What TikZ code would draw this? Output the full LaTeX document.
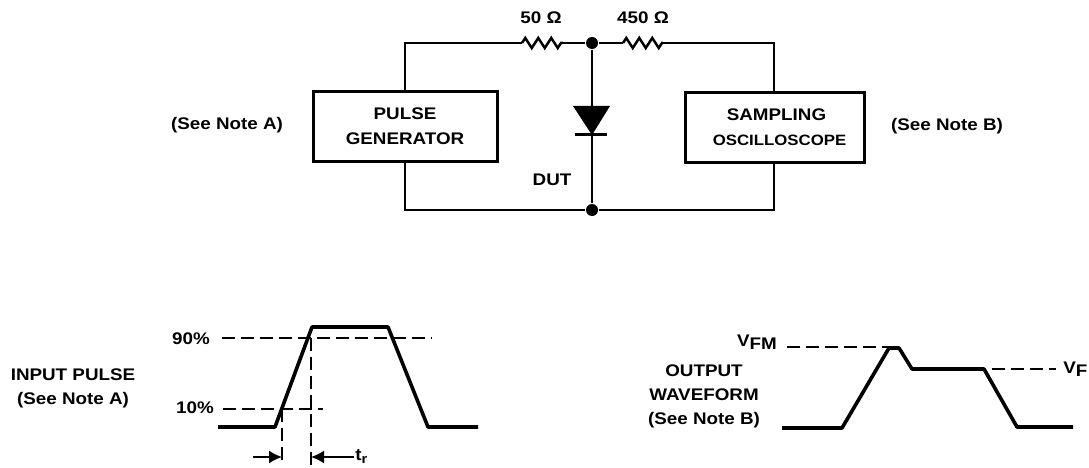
\documentclass[tikz,border=0pt]{standalone}
\usepackage{fontspec}
\setmainfont[FakeStretch=1.12]{Liberation Sans}
\usetikzlibrary{arrows.meta,decorations.pathmorphing}
\begin{document}
\begin{tikzpicture}[x=1pt, y=-1pt, draw=black, text=black, align=center, line width=2.5pt,
    font=\fontsize{16.8}{18}\selectfont\bfseries,
    boxnode/.style={draw, line width=3pt, minimum height=69pt, inner sep=0pt},
    dotnode/.style={circle, fill, minimum size=12pt, inner sep=0pt},
    resistor/.style={decorate, decoration={zigzag, segment length=13pt, amplitude=5pt}},
    pulse/.style={line width=3.6pt, line join=round},
    dashline/.style={line width=2.4pt, dash pattern=on 13pt off 6pt},
    timearrow/.style={line width=1.8pt, -{Latex[length=13pt, width=13pt]}}]
    \useasboundingbox (0,0) rectangle (1089,468);

    % circuit
    \node (gen) [boxnode, minimum width=184pt] at (405,126.5) {PULSE\\[7pt]GENERATOR};
    \node (scope) [boxnode, minimum width=179pt] at (774.5,127.5) {\hspace{4pt}SAMPLING\\[7pt]\hspace{10pt}{\fontsize{15}{18}\selectfont OSCILLOSCOPE}};
    \node (top) [dotnode] at (592,43) {};
    \node (bot) [dotnode] at (592,210) {};
    \coordinate (tl) at (405,43);
    \coordinate (tr) at (774,43);
    \coordinate (bl) at (405,210);
    \coordinate (br) at (774,210);
    \coordinate (r1a) at (522,43);
    \coordinate (r1b) at (563,43);
    \coordinate (r2a) at (623,43);
    \coordinate (r2b) at (663,43);
    \coordinate (da) at (573,106);
    \coordinate (db) at (610,106);
    \coordinate (dc) at (592,135);
    \coordinate (ba) at (575,135);
    \coordinate (bb) at (607,135);

    \draw (gen.north -| tl) -- (tl) -- (r1a);
    \draw[resistor] (r1a) -- (r1b);
    \draw (r1b) -- (top) -- (r2a);
    \draw[resistor] (r2a) -- (r2b);
    \draw (r2b) -- (tr) -- (scope.north -| tr);
    \draw (gen.south -| bl) -- (bl) -- (bot) -- (br) -- (scope.south -| br);
    \draw (top) -- (bot);
    \fill (da) -- (db) -- (dc) -- cycle;
    \draw[line width=3pt] (ba) -- (bb);

    \node (r1lab) at (541,18) {50 Ω};
    \node (r2lab) at (643,18) {450 Ω};
    \node (dut) at (552,180) {DUT};
    \node (noteA) at (227,125) {(See Note A)};
    \node (noteB) at (947,126) {(See Note B)};

    % input pulse
    \node (inlab) at (73,388.5) {INPUT PULSE\\[6pt](See Note A)};
    \node (p90) [anchor=east, inner sep=0pt] at (211,339) {90\%};
    \node (p10) [anchor=east, inner sep=0pt] at (215,408) {10\%};
    \coordinate (i1) at (218,427);
    \coordinate (i2) at (275,427);
    \coordinate (i3) at (312,327);
    \coordinate (i4) at (388,327);
    \coordinate (i5) at (428,427);
    \coordinate (i6) at (478,427);
    \draw[pulse] (i1) -- (i2) -- (i3) -- (i4) -- (i5) -- (i6);
    \coordinate (h1) at (222,338);
    \coordinate (h2) at (432,338);
    \coordinate (h3) at (223,409);
    \coordinate (h4) at (323,409);
    \coordinate (v1) at (282,409);
    \coordinate (v2) at (282,466);
    \coordinate (v3) at (311,338);
    \coordinate (v4) at (311,466);
    \draw[dashline] (h1) -- (h2);
    \draw[dashline] (h3) -- (h4);
    \draw[dashline] (v1) -- (v2);
    \draw[dashline] (v3) -- (v4);
    \node (trlab) [anchor=west, inner sep=0pt] at (354,457) {t\raisebox{-3pt}{\fontsize{13}{13}\selectfont r}};
    \coordinate (a1) at (253,457);
    \coordinate (a2) at (282,457);
    \coordinate (a3) at (311,457);
    \draw[timearrow] (a1) -- (a2);
    \draw[timearrow] (trlab.west) -- (a3);

    % output waveform
    \node (outlab) at (704,396) {OUTPUT\\[6pt]WAVEFORM\\[6pt](See Note B)};
    \node (vfm) [anchor=east, inner sep=0pt] at (778,342) {V\raisebox{-3pt}{FM}};
    \node (vf) [anchor=west, inner sep=0pt] at (1062,369) {V\raisebox{-3pt}{F}};
    \coordinate (o1) at (782,428);
    \coordinate (o2) at (842,428);
    \coordinate (o3) at (889,348);
    \coordinate (o4) at (899,348);
    \coordinate (o5) at (912,369);
    \coordinate (o6) at (984,369);
    \coordinate (o7) at (1017,427);
    \coordinate (o8) at (1073,427);
    \draw[pulse] (o1) -- (o2) -- (o3) -- (o4) -- (o5) -- (o6) -- (o7) -- (o8);
    \coordinate (d1) at (787,347);
    \coordinate (d2) at (889,347);
    \coordinate (d3) at (992,369);
    \coordinate (d4) at (1056,369);
    \draw[dashline] (d1) -- (d2);
    \draw[dashline] (d3) -- (d4);
\end{tikzpicture}
\end{document}
